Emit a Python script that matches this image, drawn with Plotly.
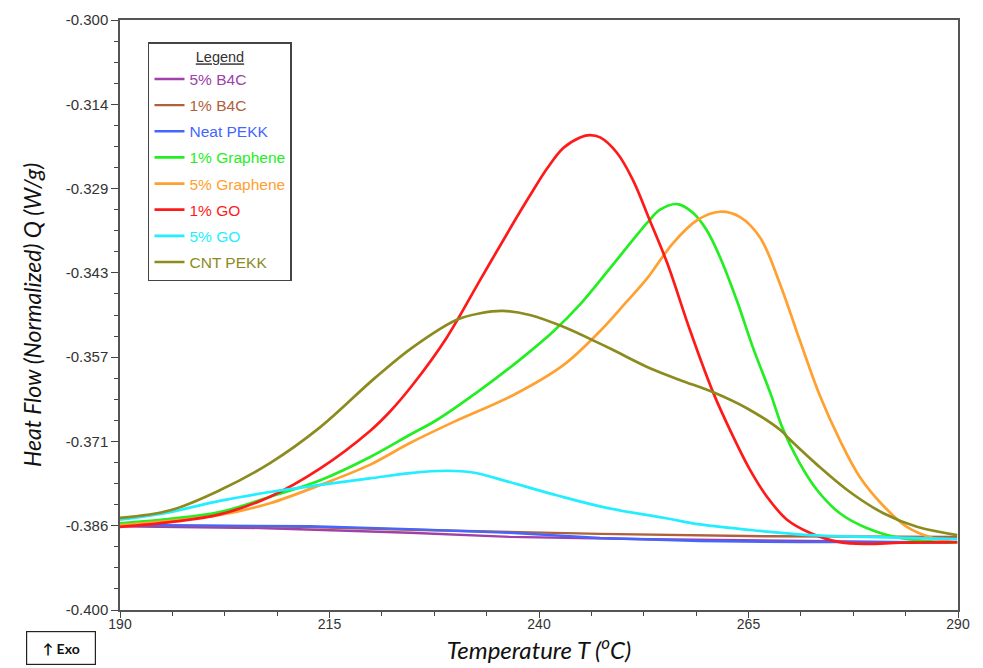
import plotly.graph_objects as go

# ---------------- data ----------------
series_names = ["5% B4C", "1% B4C", "Neat PEKK", "1% Graphene",
                "5% Graphene", "1% GO", "5% GO", "CNT PEKK"]
series_colors = ["#a040a8", "#b0603a", "#4466ff", "#22ee22",
                 "#ffa030", "#ff1a1a", "#22eeff", "#8b8b1e"]

t_b4c5 = [190.0, 206.7, 224.6, 236.5, 253.2, 271.1, 289.9]
q_b4c5 = [-0.3858, -0.3861, -0.3869, -0.3876, -0.3880, -0.3883, -0.3886]

t_b4c1 = [190.0, 211.5, 224.6, 236.5, 247.3, 267.2, 289.9]
q_b4c1 = [-0.3856, -0.3859, -0.3864, -0.3868, -0.3871, -0.3875, -0.3876]

t_neat = [190.0, 212.7, 224.6, 236.5, 247.3, 259.2, 271.1, 289.9]
q_neat = [-0.3856, -0.3858, -0.3863, -0.3869, -0.3878, -0.3883, -0.3885, -0.3885]

t_gr1 = [190.0, 201.9, 207.9, 213.9, 219.8, 224.6, 227.8, 233.0, 237.7, 241.7,
         244.9, 248.8, 252.9, 254.4, 256.5, 258.4, 260.0, 261.6, 263.6, 265.5,
         267.6, 269.1, 271.1, 273.2, 275.9, 279.1, 283.1, 289.9]
q_gr1 = [-0.3853, -0.3834, -0.3808, -0.3780, -0.3741, -0.3703, -0.3678, -0.3627,
         -0.3576, -0.3528, -0.3482, -0.3415, -0.3344, -0.3322, -0.3312, -0.3327,
         -0.3356, -0.3402, -0.3475, -0.3554, -0.3632, -0.3693, -0.3751, -0.3797,
         -0.3836, -0.3861, -0.3878, -0.3886]

t_gr5 = [190.0, 201.9, 207.9, 213.9, 219.8, 224.6, 229.7, 236.9, 242.9, 247.3,
         250.3, 252.9, 256.0, 258.9, 261.6, 264.0, 266.4, 268.8, 271.1, 273.5,
         275.9, 278.3, 281.0, 283.9, 287.0, 289.9]
q_gr5 = [-0.3856, -0.3839, -0.3819, -0.3788, -0.3754, -0.3717, -0.3682, -0.3636,
         -0.3585, -0.3527, -0.3480, -0.3438, -0.3378, -0.3339, -0.3325, -0.3334,
         -0.3369, -0.3449, -0.3542, -0.3636, -0.3712, -0.3775, -0.3822, -0.3859,
         -0.3878, -0.3886]

t_go1 = [190.0, 196.0, 201.9, 207.9, 213.9, 219.8, 222.2, 225.0, 229.0, 233.0,
         236.9, 238.9, 241.0, 242.9, 244.9, 246.1, 247.3, 249.3, 251.2, 253.2,
         255.3, 258.0, 260.8, 263.2, 265.2, 267.2, 269.6, 272.3, 275.9, 279.1,
         283.1, 289.9]
q_go1 = [-0.3859, -0.3851, -0.3838, -0.3808, -0.3760, -0.3697, -0.3664, -0.3617,
         -0.3538, -0.3440, -0.3345, -0.3298, -0.3251, -0.3217, -0.3199, -0.3195,
         -0.3199, -0.3225, -0.3271, -0.3339, -0.3412, -0.3525, -0.3632, -0.3707,
         -0.3763, -0.3808, -0.3847, -0.3869, -0.3885, -0.3888, -0.3886, -0.3885]

t_go5 = [190.0, 196.0, 201.9, 207.9, 213.9, 219.8, 224.6, 229.0, 232.1, 236.2,
         242.2, 248.1, 255.0, 259.2, 266.4, 272.3, 279.1, 289.9]
q_go5 = [-0.3847, -0.3834, -0.3815, -0.3800, -0.3788, -0.3777, -0.3768, -0.3764,
         -0.3767, -0.3782, -0.3806, -0.3827, -0.3844, -0.3855, -0.3866, -0.3873,
         -0.3876, -0.3880]

t_cnt = [190.0, 196.0, 201.9, 207.9, 213.9, 220.4, 225.0, 230.2, 233.0, 235.7,
         238.9, 242.9, 246.9, 248.8, 252.9, 256.8, 260.8, 264.8, 268.8, 270.0,
         273.2, 277.1, 281.1, 285.1, 289.9]
q_cnt = [-0.3844, -0.3831, -0.3797, -0.3751, -0.3690, -0.3607, -0.3554, -0.3508,
         -0.3497, -0.3493, -0.3500, -0.3520, -0.3546, -0.3559, -0.3588, -0.3610,
         -0.3631, -0.3658, -0.3695, -0.3712, -0.3754, -0.3800, -0.3836, -0.3859,
         -0.3873]

x_tick_vals = [190, 215, 240, 265, 290]
y_tick_labels = ["-0.400", "-0.386", "-0.371", "-0.357",
                 "-0.343", "-0.329", "-0.314", "-0.300"]
y_min, y_max = -0.400, -0.300
y_tick_vals = [y_min + i * (y_max - y_min) / 7 for i in range(8)]

series_t = [t_b4c5, t_b4c1, t_neat, t_gr1, t_gr5, t_go1, t_go5, t_cnt]
series_q = [q_b4c5, q_b4c1, q_neat, q_gr1, q_gr5, q_go1, q_go5, q_cnt]

# ---------------- figure ----------------
fig = go.Figure()
for i, (name, col, t, q) in enumerate(zip(series_names, series_colors, series_t, series_q)):
    baseline = i < 3
    fig.add_trace(go.Scatter(
        x=t, y=q, mode="lines",
        name=f"<span style='color:{col}'>{name}</span>",
        legendgroup=f"g{i}",
        line=dict(color=col, width=2.4 if baseline else 2.7,
                  shape="linear" if baseline else "spline", smoothing=1.0),
        hoverinfo="x+y",
    ))

x_tick_font = dict(family="Liberation Sans, Arial, sans-serif", size=14, color="#333333")
y_tick_font = dict(family="Liberation Sans, Arial, sans-serif", size=15, color="#333333")
title_font_x = dict(family="Lato, Open Sans, sans-serif", size=24, color="#111111")
title_font_y = dict(family="Lato, Open Sans, sans-serif", size=23, color="#111111")

fig.update_layout(
    width=975, height=660,
    margin=dict(l=112, r=25, t=12, b=58),
    paper_bgcolor="white", plot_bgcolor="white",
    showlegend=True,
    legend=dict(
        x=0.0334, y=0.9627, xanchor="left", yanchor="top",
        bgcolor="white", bordercolor="#444444", borderwidth=1.5,
        font=dict(family="Liberation Sans, Arial, sans-serif", size=15.5),
        title=dict(text="<u>Legend</u>", side="top center",
                   font=dict(family="Liberation Sans, Arial, sans-serif", size=14.5, color="#333333")),
        traceorder="grouped", tracegroupgap=3, itemwidth=30,
    ),
    xaxis=dict(
        range=[190, 290], tickvals=x_tick_vals, ticks="outside", ticklen=6,
        tickcolor="#444444", tickfont=x_tick_font, ticklabelstandoff=-6,
        showline=True, linecolor="#555555", linewidth=1.5, mirror=True,
        showgrid=False, zeroline=False, automargin=False,
        minor=dict(dtick=6.25, tick0=190, ticks="outside", ticklen=4, tickcolor="#444444"),
        title=dict(text="<i>Temperature T (<sup>o</sup>C)</i>", font=title_font_x, standoff=12),
    ),
    yaxis=dict(
        range=[y_min, y_max], tickvals=y_tick_vals, ticktext=y_tick_labels,
        ticks="outside", ticklen=7, tickcolor="#444444", tickfont=y_tick_font,
        showline=True, linecolor="#555555", linewidth=1.5, mirror=True,
        showgrid=False, zeroline=False, automargin=False,
        minor=dict(dtick=(y_max - y_min) / 28, tick0=y_min, ticks="outside",
                   ticklen=4, tickcolor="#444444"),
        title=dict(text="<i>Heat Flow (Normalized) Q (W/g)</i>", font=title_font_y, standoff=18),
    ),
)

fig.add_annotation(
    xref="paper", yref="paper", x=-0.0704, y=-0.0639,
    xanchor="center", yanchor="middle", showarrow=False,
    text="<b>↑ Exo</b>", width=66, height=30,
    font=dict(family="Lato, Open Sans, sans-serif", size=14, color="#111111"),
    bordercolor="#222222", borderwidth=1.2, bgcolor="white",
)

fig.write_html("out.html")
